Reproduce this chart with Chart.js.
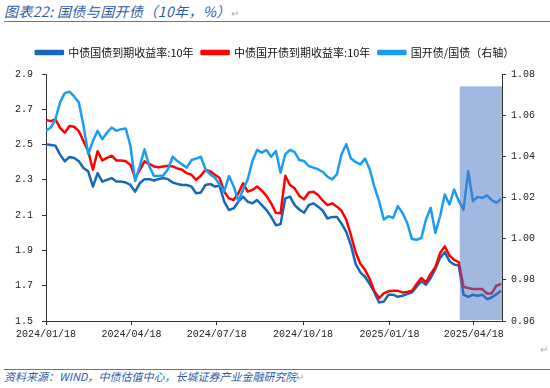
<!DOCTYPE html>
<html>
<head>
<meta charset="utf-8">
<script src="https://cdn.jsdelivr.net/npm/chart.js@4.4.0/dist/chart.umd.min.js"></script>
<style>
  body { margin: 0; background: #fff; width: 550px; height: 388px; overflow: hidden; position: relative; }
  .cap { position: absolute; left: 4px; font-family: "Noto Sans CJK SC", sans-serif; font-style: italic; color: #2f5ca8; white-space: nowrap; }
  #title { top: 1px; font-size: 14px; letter-spacing: 0.4px; }
  #source { top: 368px; font-size: 11px; }
  .rule { position: absolute; left: 4px; right: 0; height: 0; border-top: 1.5px solid #4a78c2; }
  .mark { color: #aaa; font-style: normal; font-size: 10px; }
  #wrap { position: absolute; left: 0; top: 39px; width: 550px; height: 312px; }
</style>
</head>
<body>
<div id="title" class="cap">图表22: 国债与国开债（10年，%）<span class="mark">↵</span></div>
<div class="rule" style="top:21px"></div>
<div id="wrap"><canvas id="chart" width="550" height="312"></canvas></div>
<div class="rule" style="top:369px"></div>
<div id="source" class="cap">资料来源：WIND，中债估值中心，长城证券产业金融研究院<span class="mark">↵</span></div>
<div class="cap mark" style="left:540px; top:341px;">↵</div>
<script>
// 5-day sampling
const dates = [
  '2024-01-18','2024-01-23','2024-01-28','2024-02-02','2024-02-07','2024-02-12','2024-02-17','2024-02-22','2024-02-27','2024-03-03',
  '2024-03-08','2024-03-13','2024-03-18','2024-03-23','2024-03-28','2024-04-02','2024-04-07','2024-04-12','2024-04-17','2024-04-22',
  '2024-04-27','2024-05-02','2024-05-07','2024-05-12','2024-05-17','2024-05-22','2024-05-27','2024-06-01','2024-06-06','2024-06-11',
  '2024-06-16','2024-06-21','2024-06-26','2024-07-01','2024-07-06','2024-07-11','2024-07-16','2024-07-21','2024-07-26','2024-07-31',
  '2024-08-05','2024-08-10','2024-08-15','2024-08-20','2024-08-25','2024-08-30','2024-09-04','2024-09-09','2024-09-14','2024-09-19',
  '2024-09-24','2024-09-29','2024-10-04','2024-10-09','2024-10-14','2024-10-19','2024-10-24','2024-10-29','2024-11-03','2024-11-08',
  '2024-11-13','2024-11-18','2024-11-23','2024-11-28','2024-12-03','2024-12-08','2024-12-13','2024-12-18','2024-12-23','2024-12-28',
  '2025-01-02','2025-01-07','2025-01-12','2025-01-17','2025-01-22','2025-01-27','2025-02-01','2025-02-06','2025-02-11','2025-02-16',
  '2025-02-21','2025-02-26','2025-03-03','2025-03-08','2025-03-13','2025-03-18','2025-03-23','2025-03-28','2025-04-02','2025-04-07',
  '2025-04-12','2025-04-17','2025-04-22','2025-04-27','2025-05-02','2025-05-07','2025-05-12','2025-05-17'
];

const govYield = [
  2.502,2.498,2.494,2.443,2.405,2.430,2.424,2.405,2.367,2.348,
  2.262,2.338,2.290,2.300,2.310,2.290,2.290,2.285,2.271,2.233,
  2.281,2.304,2.304,2.296,2.304,2.310,2.304,2.285,2.277,2.271,
  2.271,2.262,2.224,2.228,2.271,2.277,2.262,2.266,2.176,2.129,
  2.138,2.176,2.205,2.176,2.167,2.186,2.157,2.129,2.090,2.043,
  2.049,2.195,2.205,2.157,2.132,2.113,2.157,2.167,2.148,2.125,
  2.081,2.090,2.090,2.052,2.005,1.929,1.824,1.776,1.751,1.710,
  1.662,1.605,1.610,1.649,1.649,1.637,1.643,1.652,1.662,1.694,
  1.725,1.706,1.744,1.795,1.858,1.890,1.839,1.820,1.814,1.649,
  1.637,1.649,1.643,1.649,1.624,1.633,1.652,1.671
];

const cdbYield = [
  2.639,2.633,2.643,2.595,2.567,2.605,2.601,2.576,2.519,2.462,
  2.357,2.462,2.410,2.424,2.437,2.410,2.410,2.405,2.386,2.310,
  2.357,2.405,2.391,2.376,2.372,2.376,2.380,2.376,2.365,2.357,
  2.338,2.329,2.300,2.323,2.357,2.348,2.329,2.310,2.233,2.195,
  2.186,2.224,2.281,2.233,2.243,2.262,2.239,2.209,2.167,2.113,
  2.110,2.323,2.271,2.252,2.209,2.190,2.228,2.233,2.214,2.182,
  2.157,2.167,2.148,2.125,2.075,1.986,1.890,1.824,1.790,1.738,
  1.668,1.630,1.656,1.668,1.671,1.671,1.662,1.664,1.671,1.710,
  1.744,1.719,1.767,1.805,1.885,1.923,1.871,1.847,1.833,1.694,
  1.687,1.681,1.681,1.681,1.656,1.656,1.700,1.710
];

const ratio = [
  1.0524,1.0540,1.0580,1.0662,1.0707,1.0714,1.0691,1.0662,1.0548,1.0410,
  1.0475,1.0524,1.0483,1.0515,1.0540,1.0524,1.0532,1.0535,1.0450,1.0280,
  1.0353,1.0434,1.0353,1.0304,1.0304,1.0307,1.0337,1.0398,1.0377,1.0361,
  1.0345,1.0382,1.0389,1.0398,1.0337,1.0312,1.0296,1.0263,1.0231,1.0304,
  1.0255,1.0182,1.0239,1.0288,1.0377,1.0431,1.0418,1.0431,1.0398,1.0426,
  1.0320,1.0410,1.0431,1.0421,1.0382,1.0377,1.0353,1.0345,1.0337,1.0324,
  1.0301,1.0288,1.0312,1.0410,1.0459,1.0389,1.0372,1.0361,1.0389,1.0337,
  1.0252,1.0182,1.0093,1.0109,1.0101,1.0158,1.0125,1.0076,0.9998,0.9995,
  1.0003,1.0093,1.0150,1.0028,1.0109,1.0215,1.0166,1.0239,1.0182,1.0141,
  1.0328,1.0182,1.0203,1.0198,1.0210,1.0187,1.0174,1.0193
];

const tickDates = ['2024-01-18','2024-04-18','2024-07-18','2024-10-18','2025-01-18','2025-04-18'];
const tickLabels = ['2024/01/18','2024/04/18','2024/07/18','2024/10/18','2025/01/18','2025/04/18'];

const shadeFrom = '2025-04-03';
const shadeTo = '2025-05-18';
const shadeTop = 2.83;

const t0 = Date.parse(dates[0]);
function day(d) { return Math.round((Date.parse(d) - t0) / 86400000); }
function points(vals) { return vals.map((v, i) => ({ x: day(dates[i]), y: v })); }

const tickFont = { family: '"Liberation Mono", monospace', size: 10 };
const axisGrid = { drawOnChartArea: false, drawTicks: true, tickLength: 4, color: '#333' };

const shadePlugin = {
  id: 'shade',
  afterDatasetsDraw(chart) {
    const { ctx, chartArea, scales } = chart;
    let x1 = scales.x.getPixelForValue(day(shadeFrom));
    let x2 = Math.min(scales.x.getPixelForValue(day(shadeTo)), chartArea.right);
    let yTop = scales.y.getPixelForValue(shadeTop);
    ctx.save();
    ctx.fillStyle = 'rgba(68,114,196,0.5)';
    ctx.fillRect(x1, yTop, x2 - x1, chartArea.bottom - yTop - 1);
    ctx.restore();
  }
};

// push the plot a few px below the legend
const legendGap = {
  id: 'legendGap',
  beforeInit(chart) {
    const fit = chart.legend.fit;
    chart.legend.fit = function () {
      fit.bind(chart.legend)();
      this.height += 6;
    };
  }
};

new Chart(document.getElementById('chart'), {
  type: 'line',
  data: {
    datasets: [
      { label: '中债国债到期收益率:10年', data: points(govYield), borderColor: '#1668b8', backgroundColor: '#1668b8', yAxisID: 'y', order: 3 },
      { label: '中债国开债到期收益率:10年', data: points(cdbYield), borderColor: '#ff0000', backgroundColor: '#ff0000', yAxisID: 'y', order: 2 },
      { label: '国开债/国债（右轴）', data: points(ratio), borderColor: '#1a9cf2', backgroundColor: '#1a9cf2', yAxisID: 'y1', order: 1 }
    ]
  },
  options: {
    responsive: false,
    animation: false,
    devicePixelRatio: 1,
    elements: {
      line: { borderWidth: 2.5, tension: 0, borderJoinStyle: 'round' },
      point: { radius: 0 }
    },
    layout: { padding: { top: 0, left: 0, right: 0, bottom: 0 } },
    plugins: {
      legend: {
        position: 'top',
        align: 'center',
        labels: {
          boxWidth: 27,
          boxHeight: 3,
          padding: 8,
          color: '#111',
          font: { family: '"Noto Sans CJK SC", sans-serif', size: 11 },
          sort: (a, b) => a.datasetIndex - b.datasetIndex
        }
      },
      tooltip: { enabled: false }
    },
    scales: {
      x: {
        type: 'linear',
        min: 0,
        max: 486,
        grid: axisGrid,
        border: { display: true, color: '#333' },
        afterBuildTicks: (scale) => { scale.ticks = tickDates.map(d => ({ value: day(d) })); },
        afterFit: (scale) => { scale.height = 30; },
        ticks: {
          autoSkip: false,
          maxRotation: 0,
          padding: 3,
          color: '#222',
          font: tickFont,
          callback: (v) => { const i = tickDates.findIndex(d => day(d) === v); return i >= 0 ? tickLabels[i] : ''; }
        }
      },
      y: {
        position: 'left',
        min: 1.5,
        max: 2.9,
        grid: axisGrid,
        border: { display: true, color: '#333' },
        afterFit: (scale) => { scale.width = 46; },
        ticks: { stepSize: 0.2, padding: 9, color: '#222', font: tickFont, callback: (v) => v.toFixed(1) }
      },
      y1: {
        position: 'right',
        min: 0.96,
        max: 1.08,
        grid: axisGrid,
        border: { display: true, color: '#333' },
        afterFit: (scale) => { scale.width = 48; },
        ticks: { stepSize: 0.02, padding: 5, color: '#222', font: tickFont, callback: (v) => v.toFixed(2) }
      }
    }
  },
  plugins: [shadePlugin, legendGap]
});
</script>
</body>
</html>
